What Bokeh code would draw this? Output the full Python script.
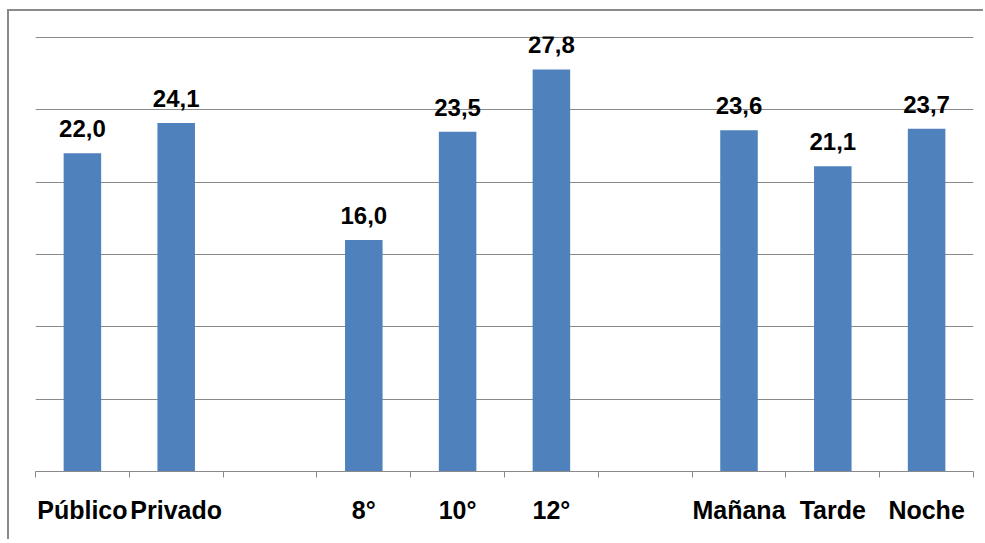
from bokeh.plotting import figure
from bokeh.models import ColumnDataSource, FixedTicker, Range1d
from bokeh.embed import file_html
from bokeh.resources import INLINE
from bokeh.core.properties import value

categories = ["Público", "Privado", "", "8°", "10°", "12°", "", "Mañana", "Tarde", "Noche"]
values = [22.0, 24.1, None, 16.0, 23.5, 27.8, None, 23.6, 21.1, 23.7]
value_labels = ["22,0", "24,1", "", "16,0", "23,5", "27,8", "", "23,6", "21,1", "23,7"]
y_ticks = [0, 5, 10, 15, 20, 25, 30]

xs = [i + 0.5 for i in range(len(categories))]
bx = [x for x, v in zip(xs, values) if v is not None]
bv = [v for v in values if v is not None]
bl = [l for l, v in zip(value_labels, values) if v is not None]
src = ColumnDataSource(dict(x=bx, top=bv, lab=bl))

p = figure(width=976, height=530, output_backend="svg", toolbar_location=None,
           x_range=Range1d(0, len(categories)), y_range=Range1d(0, 30.08),
           min_border_left=26, min_border_right=12, min_border_top=25, min_border_bottom=70)
p.styles = {"border-left": "2px solid #8a8a8a", "border-top": "2px solid #8a8a8a",
            "margin-left": "7px", "margin-top": "9px"}
p.outline_line_color = None
p.background_fill_color = "white"
p.border_fill_color = "white"

p.vbar(x="x", top="top", width=0.4, bottom=0, source=src, fill_color="#4F81BD", line_color=None)
p.text(x="x", y="top", text="lab", source=src, text_align="center", text_baseline="bottom",
       y_offset=-16, text_font=value("Liberation Sans"), text_font_style="bold",
       text_font_size="24px", text_color="black")

p.yaxis.visible = False
p.ygrid.ticker = FixedTicker(ticks=y_ticks)
p.ygrid.grid_line_color = "#8a8a8a"
p.ygrid.grid_line_width = 1
p.xgrid.grid_line_color = None

ax = p.xaxis[0]
ax.ticker = FixedTicker(ticks=xs, minor_ticks=list(range(len(categories) + 1)))
ax.major_label_overrides = {x: c for x, c in zip(xs, categories)}
ax.major_tick_line_color = None
ax.minor_tick_line_color = "#8a8a8a"
ax.minor_tick_in = 0
ax.minor_tick_out = 6
ax.axis_line_color = "#8a8a8a"
ax.major_label_standoff = 18
ax.major_label_text_font = "Liberation Sans"
ax.major_label_text_font_style = "bold"
ax.major_label_text_font_size = "25px"
ax.major_label_text_color = "black"

open("out.html", "w").write(file_html(p, INLINE))
